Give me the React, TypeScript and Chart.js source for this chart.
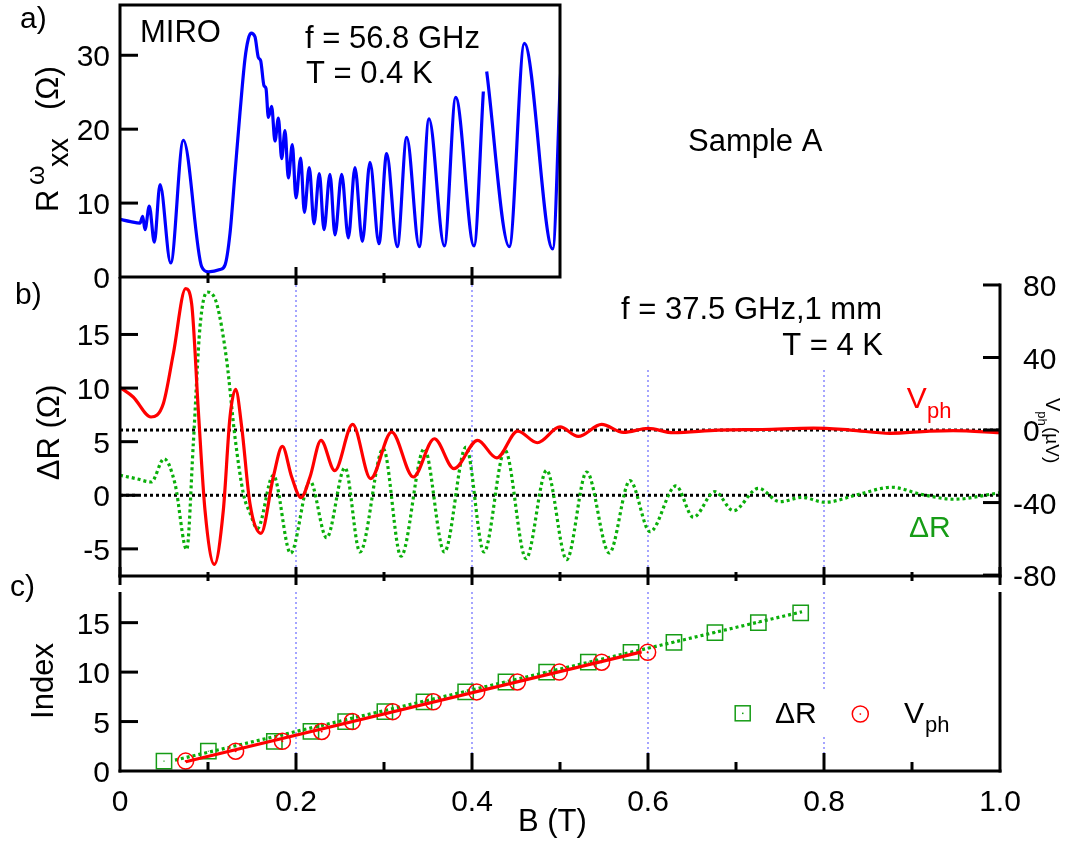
import { useEffect, useRef } from 'react';
import { Chart, registerables } from 'chart.js';

Chart.register(...registerables);

const W = 1065;
const H = 842;
const FF = '"Liberation Sans", Arial, Helvetica, sans-serif';

// ---------- Panel a: MIRO, R_xx^omega vs B ----------
const aB = [0, 0.012, 0.0227, 0.0258, 0.0284, 0.0333, 0.039, 0.0455, 0.0576, 0.072, 0.0928, 0.1004, 0.1136, 0.1193, 0.125, 0.1307, 0.1364, 0.142, 0.1458, 0.1489, 0.1534, 0.1572, 0.1598, 0.1636, 0.1659, 0.1686, 0.1723, 0.1761, 0.18, 0.1837, 0.1875, 0.1913, 0.1958, 0.2, 0.2053, 0.2095, 0.2151, 0.2205, 0.2265, 0.2318, 0.2386, 0.2443, 0.2519, 0.2595, 0.267, 0.2754, 0.2841, 0.2943, 0.303, 0.3151, 0.3258, 0.3401, 0.3511, 0.3686, 0.3815, 0.4023, 0.4129, 0.4148, 0.4167, 0.4424, 0.4595, 0.4917, 0.5008];
const aR = [7.8, 7.5, 7.3, 8.2, 6.4, 9.6, 4.7, 12.5, 1.9, 18.5, 1.4, 0.7, 1.0, 1.6, 5.9, 14.1, 22.3, 29.5, 32.2, 33.0, 32.5, 29.7, 29.3, 25.9, 25.5, 21.6, 23.1, 18.4, 21.5, 16.0, 19.8, 13.4, 17.9, 10.7, 16.1, 8.75, 14.8, 7.2, 14.0, 6.4, 13.9, 5.7, 13.9, 5.3, 14.8, 4.8, 15.5, 4.5, 16.7, 4.1, 18.9, 4.1, 21.4, 4.2, 24.3, 4.2, 25.1, null, 27.8, 4.1, 31.6, 3.8, 27.9];

// ---------- Panel b: V_ph (right axis, µV) and ΔR (left axis, Ω) ----------
const bVphB = [0, 0.015, 0.0352, 0.0492, 0.0606, 0.0746, 0.0814, 0.089, 0.0966, 0.1072, 0.1174, 0.125, 0.1314, 0.1383, 0.1477, 0.1602, 0.1742, 0.1845, 0.1951, 0.2057, 0.2159, 0.2284, 0.244, 0.2644, 0.2848, 0.3087, 0.3333, 0.3572, 0.3795, 0.4064, 0.428, 0.4519, 0.4742, 0.5, 0.5208, 0.5473, 0.572, 0.6004, 0.6288, 0.68, 0.73, 0.788, 0.83, 0.875, 0.92, 0.9466, 1.0];
const bVph = [23.5, 18.2, 7.2, 14.5, 42.1, 78.0, 69.7, 10.9, -44.3, -74.1, -44.3, 7.2, 22.4, 1.7, -40.7, -57.0, -25.9, -9.0, -25.9, -37.3, -25.9, -5.7, -22.4, 3.1, -26.8, -1.1, -25.9, -4.8, -21.3, -5.7, -15.4, -0.6, -7.0, 1.7, -3.5, 3.1, -1.3, 0.9, -1.5, 0.0, 0.3, 1.1, 0.0, -1.8, -0.6, -0.3, -1.5];
const bDRB = [0, 0.0185, 0.0356, 0.05, 0.0625, 0.0758, 0.0833, 0.0909, 0.0992, 0.1098, 0.1212, 0.1307, 0.1402, 0.1477, 0.1562, 0.1742, 0.1939, 0.2159, 0.2348, 0.2557, 0.2727, 0.2992, 0.3193, 0.3458, 0.3686, 0.3932, 0.4136, 0.4375, 0.4614, 0.4848, 0.5076, 0.5303, 0.556, 0.5795, 0.6023, 0.6318, 0.6515, 0.6761, 0.697, 0.7254, 0.75, 0.775, 0.801, 0.84, 0.8769, 0.91, 0.947, 1.0];
const bDR = [1.87, 1.55, 1.24, 3.41, 1.08, -5.07, 4.81, 15.7, 18.96, 17.9, 12.6, 5.4, 0.15, -1.65, -3.1, 1.87, -5.4, 1.33, -3.96, 2.57, -5.29, 4.35, -5.69, 4.35, -5.29, 4.5, -5.29, 4.2, -5.9, 2.33, -6.0, 2.17, -5.38, 1.36, -3.4, 0.87, -2.05, 0.34, -1.44, 0.65, -0.6, -0.2, -0.65, 0.1, 0.75, 0.1, -0.37, 0.24];

// ---------- Panel c: index of extrema ----------
const cSqB = [0.05, 0.1004, 0.1754, 0.217, 0.2564, 0.301, 0.3455, 0.3928, 0.4386, 0.4848, 0.5322, 0.5807, 0.6295, 0.6761, 0.7254, 0.7735];
const cSqIdx = [1, 2, 3, 4, 5, 6, 7, 8, 9, 10, 11, 12, 13, 14, 15, 16];
const cCirB = [0.0746, 0.1314, 0.1845, 0.2292, 0.264, 0.3099, 0.356, 0.4053, 0.4515, 0.4992, 0.5473, 0.5996];
const cCirIdx = [1, 2, 3, 4, 5, 6, 7, 8, 9, 10, 11, 12];
const cFitDRB = [0.0625, 0.775];
const cFitDRIdx = [1.1, 16.1];
const cFitVB = [0.0746, 0.5928];
const cFitVIdx = [0.94, 12.05];

// ---------- ticks ----------
const aYTicks = [0, 10, 20, 30];
const bYLTicks = [-5, 0, 5, 10, 15];
const bYRTicks = [-80, -40, 0, 40, 80];
const cYTicks = [0, 5, 10, 15];
const xMajor = [0, 0.2, 0.4, 0.6, 0.8, 1.0];
const xMajorLabels = ['0', '0.2', '0.4', '0.6', '0.8', '1.0'];
const xMinor = [0.1, 0.3, 0.5, 0.7, 0.9];
const aTopMajor = [0.2, 0.4];
const aTopMinor = [0.1, 0.3];
const gridB = [0.2, 0.4, 0.6, 0.8];

const RED = '#ff0000';
const BLUE = '#0000ff';
const GREEN_LINE = 'rgb(10,175,10)';
const GREEN = '#169c16';
const GRID = '#9c9cff';

const pts = (xs: number[], ys: (number | null)[]) => xs.map((x, i) => ({ x, y: ys[i] }));

function T(ctx: CanvasRenderingContext2D, s: string, x: number, y: number, size: number, align: CanvasTextAlign = 'left', color = '#000') {
  ctx.font = `${size}px ${FF}`;
  ctx.fillStyle = color;
  ctx.textAlign = align;
  ctx.textBaseline = 'alphabetic';
  ctx.fillText(s, x, y);
}

function L(ctx: CanvasRenderingContext2D, x1: number, y1: number, x2: number, y2: number, w = 3, color = '#000', dash: number[] = []) {
  ctx.save();
  ctx.beginPath();
  ctx.setLineDash(dash);
  ctx.lineWidth = w;
  ctx.strokeStyle = color;
  ctx.lineCap = 'butt';
  ctx.moveTo(x1, y1);
  ctx.lineTo(x2, y2);
  ctx.stroke();
  ctx.restore();
}

function pad(l: number, t: number, r: number, b: number) {
  return { left: l, top: t, right: W - r, bottom: H - b };
}

function baseOptions(padding: any, scales: any) {
  return {
    responsive: false,
    animation: false as const,
    events: [] as any[],
    layout: { padding },
    plugins: { legend: { display: false }, tooltip: { enabled: false } },
    scales,
  };
}

function makeA(canvas: HTMLCanvasElement) {
  const plugin = {
    id: 'panelA',
    afterDraw(chart: any) {
      const ctx: CanvasRenderingContext2D = chart.ctx;
      const x = chart.scales.x;
      const y = chart.scales.y;
      const { left: l, top: t, right: r, bottom: b } = chart.chartArea;
      ctx.save();
      ctx.lineWidth = 3;
      ctx.strokeStyle = '#000';
      ctx.strokeRect(l, t, r - l, b - t);
      for (const v of aYTicks) {
        if (v === 0) continue;
        const py = y.getPixelForValue(v);
        L(ctx, l, py, l + 18, py);
      }
      for (const v of aTopMajor) {
        const px = x.getPixelForValue(v);
        L(ctx, px, b - 10, px, b + 8);
      }
      for (const v of aTopMinor) {
        const px = x.getPixelForValue(v);
        L(ctx, px, b - 4, px, b + 6);
      }
      for (const v of aYTicks) {
        const py = y.getPixelForValue(v);
        T(ctx, String(v), 110, py + 11, 30, 'right');
      }
      // y title R^ω_xx (Ω)
      ctx.save();
      ctx.translate(58, 212);
      ctx.rotate(-Math.PI / 2);
      T(ctx, 'R', 0, 0, 31);
      T(ctx, 'ω', 27, -14, 25);
      T(ctx, 'xx', 45, 10, 29);
      T(ctx, '(Ω)', 102, 0, 31);
      ctx.restore();
      T(ctx, 'a)', 20, 28, 30);
      T(ctx, 'MIRO', 140, 42, 31);
      T(ctx, 'f = 56.8 GHz', 305, 48, 31);
      T(ctx, 'T = 0.4 K', 306, 83, 31);
      T(ctx, 'Sample A', 688, 151, 31);
      ctx.restore();
    },
  };
  return new Chart(canvas, {
    type: 'scatter',
    data: {
      datasets: [
        {
          data: pts(aB, aR),
          showLine: true,
          borderColor: BLUE,
          borderWidth: 3.2,
          pointRadius: 0,
          cubicInterpolationMode: 'monotone',
          spanGaps: false,
        } as any,
      ],
    },
    options: baseOptions(pad(120, 5, 560, 277), {
      x: { type: 'linear', display: false, min: 0, max: 0.5 },
      y: { type: 'linear', display: false, min: 0, max: 36.8 },
    }) as any,
    plugins: [plugin],
  });
}

function makeB(canvas: HTMLCanvasElement) {
  const plugin = {
    id: 'panelB',
    beforeDatasetsDraw(chart: any) {
      const ctx: CanvasRenderingContext2D = chart.ctx;
      const x = chart.scales.x;
      const y = chart.scales.y;
      const y2 = chart.scales.y2;
      const { left: l, right: r, bottom: b } = chart.chartArea;
      const top80 = y2.getPixelForValue(80);
      for (const v of gridB) {
        const px = x.getPixelForValue(v);
        L(ctx, px, top80, px, b, 1.8, GRID, [2, 3]);
      }
      const z1 = y2.getPixelForValue(0);
      const z2 = y.getPixelForValue(0);
      L(ctx, l, z1, r, z1, 3, '#000', [3, 3]);
      L(ctx, l, z2, r, z2, 3, '#000', [3, 3]);
      ctx.save();
      ctx.fillStyle = '#fff';
      ctx.fillRect(605, 284, 292, 84);
      ctx.restore();
    },
    afterDraw(chart: any) {
      const ctx: CanvasRenderingContext2D = chart.ctx;
      const x = chart.scales.x;
      const y = chart.scales.y;
      const y2 = chart.scales.y2;
      const { left: l, top: t, right: r, bottom: b } = chart.chartArea;
      const top80 = y2.getPixelForValue(80);
      ctx.save();
      L(ctx, l, t, l, b + 1.5);
      L(ctx, l - 1.5, b, r + 1.5, b);
      L(ctx, r, top80 - 1.5, r, b + 1.5);
      for (const v of bYLTicks) {
        const py = y.getPixelForValue(v);
        L(ctx, l, py, l + 18, py);
        T(ctx, String(v), 110, py + 11, 30, 'right');
      }
      for (const v of bYRTicks) {
        const py = y2.getPixelForValue(v);
        L(ctx, r - 17, py, r, py);
        const s = String(Math.abs(v));
        T(ctx, s, 1023, py + 11, 30, 'left');
        if (v < 0) T(ctx, '-', 1023, py + 11, 30, 'right');
      }
      for (const v of xMajor) {
        const px = x.getPixelForValue(v);
        L(ctx, px, b - 9, px, b + 9);
      }
      for (const v of xMinor) {
        const px = x.getPixelForValue(v);
        L(ctx, px, b - 4, px, b + 5);
      }
      // left title
      ctx.save();
      ctx.translate(59, 432.5);
      ctx.rotate(-Math.PI / 2);
      T(ctx, 'ΔR (Ω)', 0, 0, 31, 'center');
      ctx.restore();
      // right title
      ctx.save();
      ctx.translate(1045.7, 398);
      ctx.rotate(Math.PI / 2);
      T(ctx, 'V', 0, 0, 20);
      T(ctx, 'ph', 13.3, 7.7, 13);
      T(ctx, '(µV)', 29, 0, 19);
      ctx.restore();
      T(ctx, 'b)', 15, 304, 30);
      T(ctx, 'f = 37.5 GHz,1 mm', 882, 319, 31, 'right');
      T(ctx, 'T = 4 K', 883, 355, 31, 'right');
      T(ctx, 'V', 906.7, 408, 30, 'left', RED);
      T(ctx, 'ph', 927, 418, 22, 'left', RED);
      T(ctx, 'ΔR', 909, 537, 30, 'left', GREEN);
      ctx.restore();
    },
  };
  return new Chart(canvas, {
    type: 'scatter',
    data: {
      datasets: [
        {
          data: pts(bVphB, bVph),
          yAxisID: 'y2',
          showLine: true,
          borderColor: RED,
          borderWidth: 3.2,
          pointRadius: 0,
          cubicInterpolationMode: 'monotone',
        } as any,
        {
          data: pts(bDRB, bDR),
          yAxisID: 'y',
          showLine: true,
          borderColor: GREEN_LINE,
          borderWidth: 3.2,
          borderDash: [3, 3],
          pointRadius: 0,
          cubicInterpolationMode: 'monotone',
        } as any,
      ],
    },
    options: baseOptions(pad(120, 277, 1000, 576), {
      x: { type: 'linear', display: false, min: 0, max: 1 },
      y: { type: 'linear', display: false, min: -7.53, max: 20.36, position: 'left' },
      y2: { type: 'linear', display: false, min: -80.5, max: 84.4, position: 'right' },
    }) as any,
    plugins: [plugin],
  });
}

function makeC(canvas: HTMLCanvasElement) {
  const plugin = {
    id: 'panelC',
    beforeDatasetsDraw(chart: any) {
      const ctx: CanvasRenderingContext2D = chart.ctx;
      const x = chart.scales.x;
      const { top: t, bottom: b } = chart.chartArea;
      for (const v of gridB) {
        const px = x.getPixelForValue(v);
        L(ctx, px, t, px, b, 1.8, GRID, [2, 3]);
      }
    },
    afterDraw(chart: any) {
      const ctx: CanvasRenderingContext2D = chart.ctx;
      const x = chart.scales.x;
      const y = chart.scales.y;
      const { left: l, top: t, right: r, bottom: b } = chart.chartArea;
      ctx.save();
      // legend
      ctx.fillStyle = '#fff';
      ctx.fillRect(728, 690, 232, 47);
      ctx.lineWidth = 1.5;
      ctx.strokeStyle = GREEN;
      ctx.strokeRect(735.2, 705.8, 15, 15);
      ctx.fillStyle = GREEN;
      ctx.fillRect(742, 712.6, 1.5, 1.5);
      T(ctx, 'ΔR', 775, 723, 30);
      ctx.beginPath();
      ctx.strokeStyle = RED;
      ctx.lineWidth = 1.5;
      ctx.arc(860.3, 714, 8, 0, Math.PI * 2);
      ctx.stroke();
      ctx.fillStyle = RED;
      ctx.fillRect(859.6, 713.3, 1.5, 1.5);
      T(ctx, 'V', 904, 723, 30);
      T(ctx, 'ph', 925, 732, 22);
      // spines
      L(ctx, l, t, l, b + 1.5);
      L(ctx, r, t, r, b + 1.5);
      L(ctx, l - 1.5, b, r + 1.5, b);
      for (const v of cYTicks) {
        const py = y.getPixelForValue(v);
        if (v !== 0) L(ctx, l, py, l + 18, py);
        T(ctx, String(v), 110, py + 11, 30, 'right');
      }
      xMajor.forEach((v, i) => {
        const px = x.getPixelForValue(v);
        if (v > 0 && v < 1) L(ctx, px, b - 18, px, b);
        T(ctx, xMajorLabels[i], px, 811, 30, 'center');
      });
      for (const v of xMinor) {
        const px = x.getPixelForValue(v);
        L(ctx, px, b - 9, px, b);
      }
      ctx.save();
      ctx.translate(53, 681);
      ctx.rotate(-Math.PI / 2);
      T(ctx, 'Index', 0, 0, 31, 'center');
      ctx.restore();
      T(ctx, 'c)', 10, 596, 30);
      T(ctx, 'B (T)', 518, 831, 31);
      ctx.restore();
    },
  };
  return new Chart(canvas, {
    type: 'scatter',
    data: {
      datasets: [
        {
          data: pts(cCirB, cCirIdx),
          pointStyle: 'circle',
          pointRadius: 1,
          backgroundColor: RED,
          borderColor: RED,
          borderWidth: 0,
        } as any,
        {
          data: pts(cCirB, cCirIdx),
          pointStyle: 'circle',
          pointRadius: 8,
          backgroundColor: 'rgba(0,0,0,0)',
          borderColor: RED,
          borderWidth: 1.5,
        } as any,
        {
          data: pts(cFitVB, cFitVIdx),
          showLine: true,
          borderColor: RED,
          borderWidth: 3.2,
          pointRadius: 0,
        } as any,
        {
          data: pts(cSqB, cSqIdx),
          pointStyle: 'rect',
          pointRadius: 0.8,
          backgroundColor: GREEN,
          borderColor: GREEN,
          borderWidth: 0,
        } as any,
        {
          data: pts(cSqB, cSqIdx),
          pointStyle: 'rect',
          pointRadius: 10.8,
          backgroundColor: 'rgba(0,0,0,0)',
          borderColor: GREEN,
          borderWidth: 1.5,
        } as any,
        {
          data: pts(cFitDRB, cFitDRIdx),
          showLine: true,
          borderColor: GREEN_LINE,
          borderWidth: 3.2,
          borderDash: [3, 3],
          pointRadius: 0,
        } as any,
      ],
    },
    options: baseOptions(pad(120, 592, 1000, 771), {
      x: { type: 'linear', display: false, min: 0, max: 1 },
      y: { type: 'linear', display: false, min: 0, max: 18.1 },
    }) as any,
    plugins: [plugin],
  });
}

export default function App() {
  const aRef = useRef<HTMLCanvasElement>(null);
  const bRef = useRef<HTMLCanvasElement>(null);
  const cRef = useRef<HTMLCanvasElement>(null);

  useEffect(() => {
    const charts: Chart[] = [];
    if (aRef.current) charts.push(makeA(aRef.current));
    if (bRef.current) charts.push(makeB(bRef.current));
    if (cRef.current) charts.push(makeC(cRef.current));
    return () => {
      charts.forEach((c) => c.destroy());
    };
  }, []);

  const style: any = { position: 'absolute', left: 0, top: 0, width: W, height: H, display: 'block' };
  return (
    <div>
      <canvas ref={aRef} width={W} height={H} style={style} />
      <canvas ref={bRef} width={W} height={H} style={style} />
      <canvas ref={cRef} width={W} height={H} style={style} />
    </div>
  );
}
